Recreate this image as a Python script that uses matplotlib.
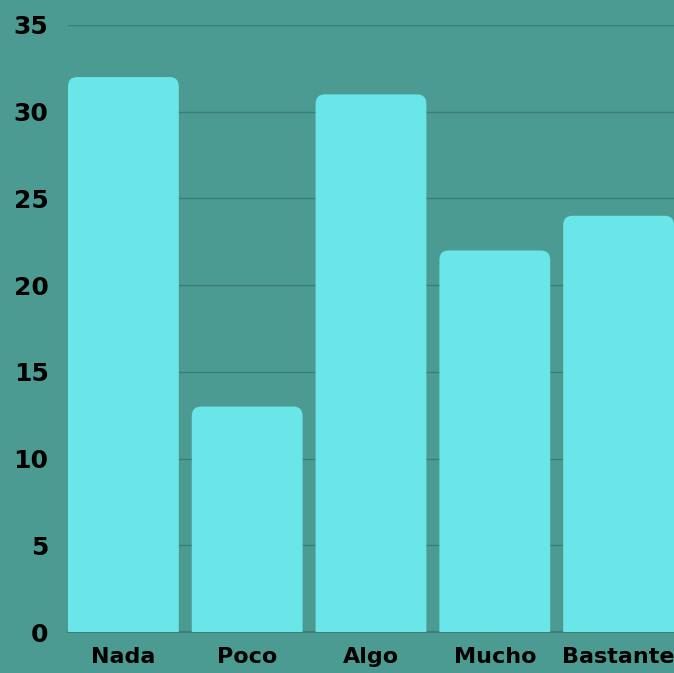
import matplotlib
matplotlib.use("Agg")
import matplotlib.pyplot as plt
from matplotlib.patches import FancyBboxPatch

categories = ["Nada", "Poco", "Algo", "Mucho", "Bastante"]
values = [32, 13, 31, 22, 24]
y_ticks = [0, 5, 10, 15, 20, 25, 30, 35]

BG = "#4c9b92"
BAR = "#6ae5e8"
GRID = "#3c7d75"

fig = plt.figure(figsize=(6.74, 6.73), dpi=100, facecolor=BG)
ax = fig.add_axes([68 / 674, 41 / 673, 606 / 674, 607 / 673], facecolor=BG)

width = 0.895
bars = ax.bar(range(len(categories)), values, width=width, color=BAR, zorder=3)

# swap the plain rectangles for ones with rounded top corners;
# the bottom is pushed below zero so its rounding is clipped away
aspect = (607 / 35) / (606 / (len(categories) - 1 + width))
for bar in bars:
    bar.set_visible(False)
    patch = FancyBboxPatch(
        (bar.get_x(), -2), bar.get_width(), bar.get_height() + 2,
        boxstyle="round,pad=0,rounding_size=0.075",
        mutation_aspect=1 / aspect,
        facecolor=BAR, edgecolor="none", zorder=3,
    )
    ax.add_patch(patch)

ax.set_xlim(-width / 2, len(categories) - 1 + width / 2)
ax.set_ylim(0, 35)
ax.set_yticks(y_ticks)
ax.set_xticks(range(len(categories)))
ax.set_xticklabels(categories)

for s in ax.spines.values():
    s.set_visible(False)
ax.axhline(0, color=GRID, linewidth=1.5, zorder=2, clip_on=False)
ax.yaxis.grid(True, color=GRID, linewidth=1.0, zorder=1)
ax.set_axisbelow(True)
ax.tick_params(length=0)
ax.tick_params(axis="y", pad=14)
ax.tick_params(axis="x", pad=11)
for lbl in ax.get_yticklabels():
    lbl.set_fontfamily("DejaVu Sans")
    lbl.set_fontweight("heavy")
    lbl.set_fontsize(18)
    lbl.set_color("black")
for lbl in ax.get_xticklabels():
    lbl.set_fontfamily("DejaVu Sans")
    lbl.set_fontweight("heavy")
    lbl.set_fontsize(16)
    lbl.set_color("black")

fig.savefig("out.png", dpi=100, facecolor=BG)
